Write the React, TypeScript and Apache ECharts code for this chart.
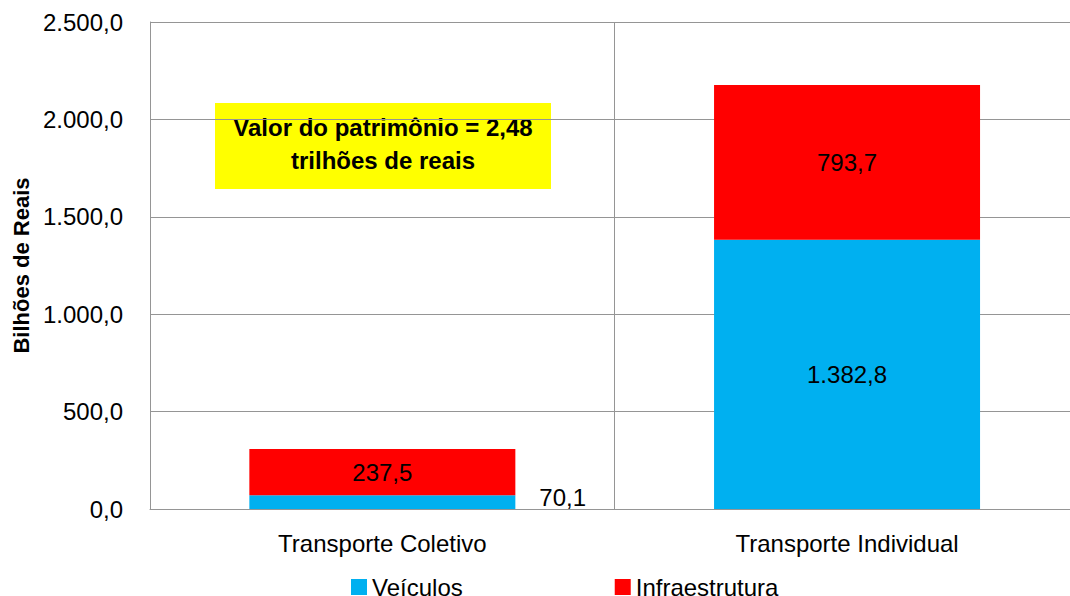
import React, { useEffect, useRef } from "react";
import * as echarts from "echarts";

const categories = ["Transporte Coletivo", "Transporte Individual"];
const veiculos = [70.1, 1382.8];
const infraestrutura = [237.5, 793.7];
const seriesNames = ["Veículos", "Infraestrutura"];
const yTicks = { min: 0, max: 2500, interval: 500 };
const boxLines = ["Valor do patrimônio = 2,48", "trilhões de reais"];

const FONT = "Liberation Sans";

function fmtBR(v: number): string {
  const [i, d] = v.toFixed(1).split(".");
  const withSep = i.replace(/\B(?=(\d{3})+(?!\d))/g, ".");
  return withSep + "," + d;
}

export default function App() {
  const ref = useRef<HTMLDivElement>(null);
  useEffect(() => {
    if (!ref.current) return;
    const chart = echarts.init(ref.current, null, { renderer: "svg" });
    const gray = "#959595";
    const labelStyle = {
      show: true,
      color: "#000",
      fontFamily: FONT,
      fontSize: 24,
      formatter: (p: any) => fmtBR(p.value),
    };
    chart.setOption({
      animation: false,
      backgroundColor: "#fff",
      grid: {
        left: 150,
        top: 22,
        width: 929.4,
        height: 487,
        containLabel: false,
        outerBoundsMode: "none",
      },
      legend: {
        left: 351,
        top: 575,
        padding: 0,
        itemGap: 152,
        itemWidth: 16,
        itemHeight: 16,
        icon: "rect",
        textStyle: { fontFamily: FONT, fontSize: 24, color: "#000" },
        data: seriesNames,
      },
      xAxis: {
        type: "category",
        data: categories,
        axisLine: { show: true, lineStyle: { color: gray, width: 1 } },
        axisTick: { show: false },
        splitLine: { show: true, lineStyle: { color: gray, width: 1 } },
        axisLabel: { fontFamily: FONT, fontSize: 24, color: "#000", margin: 22 },
      },
      yAxis: {
        type: "value",
        min: yTicks.min,
        max: yTicks.max,
        interval: yTicks.interval,
        name: "Bilhões de Reais",
        nameLocation: "middle",
        nameRotate: 90,
        nameGap: 118,
        nameTextStyle: { fontFamily: FONT, fontSize: 22, fontWeight: "bold", color: "#000" },
        axisLine: { show: true, lineStyle: { color: gray, width: 1 } },
        axisTick: { show: false },
        splitLine: { show: true, lineStyle: { color: gray, width: 1 } },
        axisLabel: {
          fontFamily: FONT,
          fontSize: 24,
          color: "#000",
          margin: 27,
          formatter: (v: number) => fmtBR(v),
        },
      },
      series: [
        {
          name: seriesNames[0],
          type: "bar",
          stack: "total",
          barWidth: 266,
          itemStyle: { color: "#00B0F0" },
          data: veiculos.map((v, i) =>
            i === 0
              ? { value: v, label: { ...labelStyle, position: "right", distance: 24, offset: [0, -5] } }
              : { value: v, label: { ...labelStyle, position: "inside" } }
          ),
        },
        {
          name: seriesNames[1],
          type: "bar",
          stack: "total",
          barWidth: 266,
          itemStyle: { color: "#FF0000" },
          label: { ...labelStyle, position: "inside" },
          data: infraestrutura,
        },
      ],
      graphic: [
        {
          type: "group",
          left: 215,
          top: 103,
          children: [
            { type: "rect", shape: { x: 0, y: 0, width: 336, height: 86 }, style: { fill: "#FFFF00" } },
            {
              type: "text",
              x: 168,
              y: 41,
              style: {
                text: boxLines.join("\n"),
                fontFamily: FONT,
                fontSize: 24,
                fontWeight: "bold",
                fill: "#000",
                align: "center",
                verticalAlign: "middle",
                lineHeight: 33,
              },
            },
          ],
        },
      ],
    });
    return () => chart.dispose();
  }, []);
  return (
    <div
      ref={ref}
      style={{ position: "absolute", left: 0, top: 0, width: 1070, height: 596 }}
    />
  );
}
